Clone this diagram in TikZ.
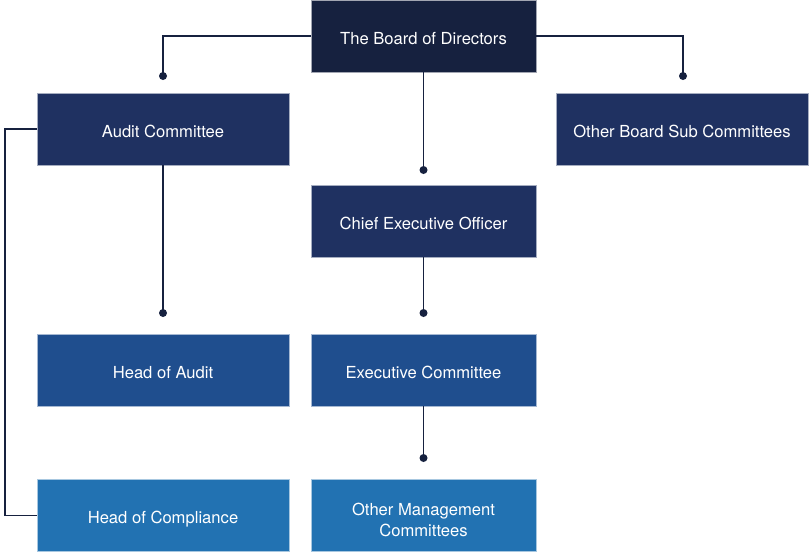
\documentclass[tikz,border=0pt]{standalone}
\usepackage{fontspec}
\setmainfont{TeX Gyre Heros}
\definecolor{cA}{HTML}{16213F}
\definecolor{cB}{HTML}{1F3161}
\definecolor{cC}{HTML}{1F4E8E}
\definecolor{cD}{HTML}{2272B2}
\definecolor{ln}{HTML}{16213F}
\begin{document}
\begin{tikzpicture}[x=1pt,y=-1pt,
  box/.style={rectangle,inner sep=0pt,minimum height=72pt,draw=white!60!#1,line width=0.6pt,fill=#1},
  lbl/.style={text=white,align=center,font=\fontsize{16.6}{21}\selectfont,inner sep=0pt},
  wide/.style={minimum width=252pt},
  mid/.style={minimum width=225pt},
  conn/.style={draw=ln,line width=1.1pt},
  dot/.style={fill=ln,circle,inner sep=0pt,minimum size=8pt}]
\useasboundingbox (0,0) rectangle (812,552);
\fill[white] (0,0) rectangle (812,552);
\node[box=cA,mid] (board) at (423.5,36) {};
\node[box=cB,wide] (audit) at (163,129) {};
\node[box=cB,wide] (other) at (682,129) {};
\node[box=cB,mid] (ceo) at (423.5,221) {};
\node[box=cC,wide] (hoa) at (163,370) {};
\node[box=cC,mid] (exec) at (423.5,370) {};
\node[box=cD,wide] (hoc) at (163,515.5) {};
\node[box=cD,mid] (omc) at (423.5,515.5) {};
\node[lbl] (tboard) at ([yshift=-2.3pt]board.center) {The Board of Directors};
\node[lbl] (taudit) at ([yshift=-2.3pt]audit.center) {Audit Committee};
\node[lbl] (tother) at ([yshift=-2.3pt]other.center) {Other Board Sub Committees};
\node[lbl] (tceo) at ([yshift=-2.3pt]ceo.center) {Chief Executive Officer};
\node[lbl] (thoa) at ([yshift=-2.3pt]hoa.center) {Head of Audit};
\node[lbl] (texec) at ([yshift=-2.3pt]exec.center) {Executive Committee};
\node[lbl] (thoc) at ([yshift=-3.5pt]hoc.center) {Head of Compliance};
\node[lbl] (tomc) at ([yshift=-4.5pt]omc.center) {Other Management\\Committees};
\coordinate (d1) at (163,76);
\coordinate (d2) at (683,76);
\coordinate (d3) at (423.5,170);
\coordinate (d4) at (163,313);
\coordinate (d5) at (423.5,313);
\coordinate (d6) at (423.5,458);
\coordinate (k) at (5,0);
\draw[conn] (board.west) -| (d1);
\draw[conn] (board.east) -| (d2);
\draw[conn] (board.south) -- (d3);
\draw[conn] (audit.south) -- (d4);
\draw[conn] (ceo.south) -- (d5);
\draw[conn] (exec.south) -- (d6);
\draw[conn] (audit.west) -- (k |- audit.west) -- (k |- hoc.west) -- (hoc.west);
\foreach \d in {d1,d2,d3,d4,d5,d6} \node[dot] at (\d) {};
\end{tikzpicture}
\end{document}
